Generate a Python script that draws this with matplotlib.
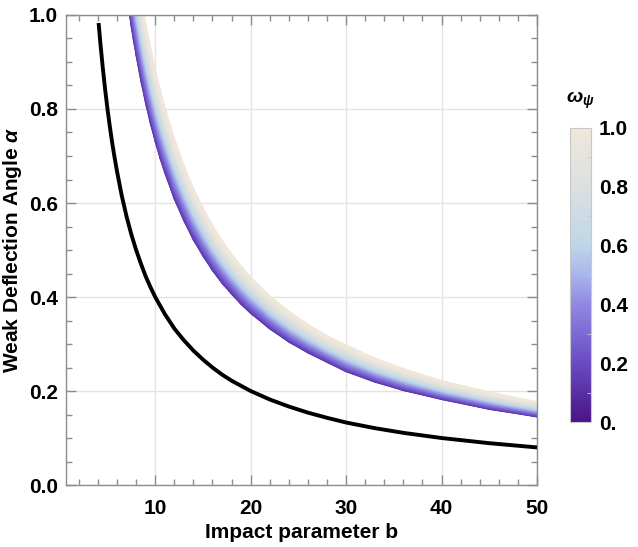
import numpy as np
import matplotlib
matplotlib.use("Agg")
import matplotlib.pyplot as plt
from matplotlib.colors import LinearSegmentedColormap, Normalize
from matplotlib.ticker import MultipleLocator
from matplotlib import cm

plt.rcParams['font.family'] = ['Liberation Sans', 'DejaVu Sans']
plt.rcParams['font.weight'] = 'bold'
plt.rcParams['mathtext.fontset'] = 'custom'
plt.rcParams['mathtext.it'] = 'Liberation Sans:italic:bold'
plt.rcParams['mathtext.rm'] = 'Liberation Sans:bold'

# black curve (reference case)
b_black = [4.07, 4.25, 4.5, 4.75, 5.0, 5.25, 5.5, 5.75, 6.0, 6.5, 7.0, 7.5, 8.0, 8.5,
           9.0, 9.5, 10.0, 11.0, 12.0, 13.0, 14.0, 15.0, 16.0, 17.0, 18.0, 19.0, 20.0,
           22.0, 24.0, 26.0, 28.0, 30.0, 33.0, 36.0, 40.0, 45.0, 50.0]
a_black = [0.983, 0.941, 0.889, 0.842, 0.800, 0.762, 0.727, 0.696, 0.667, 0.615, 0.571,
           0.533, 0.500, 0.471, 0.444, 0.421, 0.400, 0.364, 0.333, 0.308, 0.286, 0.267,
           0.250, 0.235, 0.222, 0.211, 0.200, 0.182, 0.167, 0.154, 0.143, 0.133, 0.121,
           0.111, 0.100, 0.089, 0.080]

# coloured band: lower edge (omega = 0) and upper edge (omega = 1)
b_band = [7.0, 7.25, 7.5, 7.75, 8.0, 8.5, 9.0, 9.5, 10.0, 10.5, 11.0, 12.0, 13.0, 14.0,
          15.0, 16.0, 17.0, 18.0, 19.0, 20.0, 22.0, 24.0, 26.0, 28.0, 30.0, 33.0, 36.0,
          40.0, 45.0, 50.0]
a_low = [1.043, 1.007, 0.973, 0.942, 0.913, 0.859, 0.811, 0.768, 0.730, 0.695, 0.664,
         0.608, 0.562, 0.521, 0.487, 0.456, 0.429, 0.406, 0.384, 0.365, 0.332, 0.304,
         0.281, 0.261, 0.241, 0.219, 0.201, 0.182, 0.161, 0.145]
a_high = [1.264, 1.221, 1.180, 1.142, 1.106, 1.041, 0.983, 0.932, 0.885, 0.843, 0.805,
          0.738, 0.681, 0.632, 0.590, 0.553, 0.521, 0.492, 0.466, 0.443, 0.403, 0.370,
          0.342, 0.318, 0.298, 0.270, 0.248, 0.222, 0.198, 0.177]

omega_ticks = [0.0, 0.2, 0.4, 0.6, 0.8, 1.0]
omega_labels = ["0.", "0.2", "0.4", "0.6", "0.8", "1.0"]

cmap = LinearSegmentedColormap.from_list("omega", [
    (0.0, "#4a1486"), (0.2, "#6a4bc4"), (0.4, "#9088e4"), (0.5, "#aab4ea"),
    (0.6, "#bdd6e8"), (0.8, "#dce0e0"), (1.0, "#efe7da")])

frame = "#8c8c8c"
fs = 15

fig = plt.figure(figsize=(6.38, 5.47), dpi=100)
ax = fig.add_axes([0.1034, 0.1133, 0.7383, 0.8593])

# band as a gradient mesh between the two edges
bb = np.array(b_band)
lo = np.array(a_low)
hi = np.array(a_high)
t = np.linspace(0, 1, 30)
X = np.tile(bb, (len(t), 1))
Y = lo[None, :] + t[:, None] * (hi - lo)[None, :]
C = np.clip(0.12 + t * 1.0, 0, 1)[:, None] * np.ones_like(bb)[None, :]
ax.pcolormesh(X, Y, C, cmap=cmap, vmin=0, vmax=1, shading='gouraud', zorder=2)

ax.plot(b_black, a_black, color='black', lw=2.8, zorder=3, solid_capstyle='butt')

ax.set_xlim(0.65, 50)
ax.set_ylim(0, 1)
ax.xaxis.set_major_locator(MultipleLocator(10))
ax.xaxis.set_minor_locator(MultipleLocator(2))
ax.yaxis.set_major_locator(MultipleLocator(0.2))
ax.yaxis.set_minor_locator(MultipleLocator(0.05))
ax.set_yticks([0, 0.2, 0.4, 0.6, 0.8, 1.0])
ax.set_yticklabels(["0.0", "0.2", "0.4", "0.6", "0.8", "1.0"])
ax.set_xticks([10, 20, 30, 40, 50])
ax.grid(True, which='major', color='#e4e4e4', lw=1.0, zorder=0)
ax.set_axisbelow(True)

for s in ax.spines.values():
    s.set_color(frame)
    s.set_linewidth(1.0)
ax.tick_params(which='both', direction='in', top=True, right=True, color=frame,
               labelsize=fs, width=1.0)
ax.tick_params(which='major', length=7, pad=6)
ax.tick_params(axis='x', which='major', pad=10)
ax.tick_params(which='minor', length=4)

ax.set_xlabel("Impact parameter b", fontsize=fs, fontweight='bold')
ax.set_ylabel(r"Weak Deflection Angle $\alpha$", fontsize=fs, fontweight='bold')
ax.xaxis.set_label_coords(0.5, -0.081)
ax.yaxis.set_label_coords(-0.089, 0.5)

# colour bar
cax = fig.add_axes([0.893, 0.2285, 0.033, 0.5375])
cb = fig.colorbar(cm.ScalarMappable(norm=Normalize(0, 1), cmap=cmap), cax=cax)
cb.outline.set_edgecolor('#c8c8c8')
cb.outline.set_linewidth(0.8)
cb.set_ticks(omega_ticks)
cb.set_ticklabels(omega_labels)
cax.yaxis.set_minor_locator(MultipleLocator(0.1))
cax.tick_params(which='both', direction='in', color='#c8c8c8', labelsize=fs)
cax.tick_params(which='major', length=0, pad=6)
cax.tick_params(which='minor', length=3)
fig.text(0.909, 0.817, r"$\omega_\psi$", fontsize=14, ha='center', va='center')

fig.savefig("out.png", dpi=100)
